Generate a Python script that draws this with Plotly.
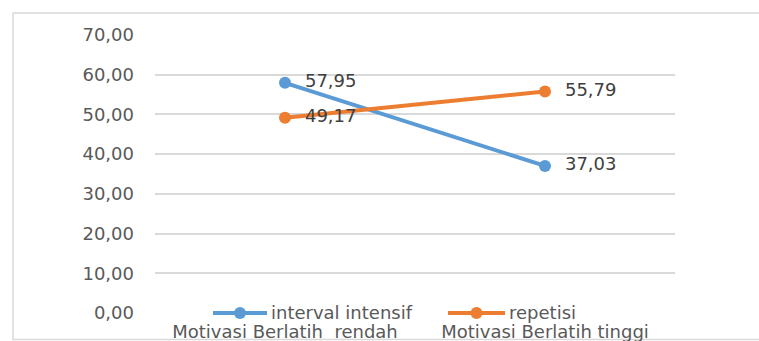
import plotly.graph_objects as go

categories = ["Motivasi Berlatih  rendah", "Motivasi Berlatih tinggi"]
interval_intensif = [57.95, 37.03]
repetisi = [49.17, 55.79]
y_ticks = [0, 10, 20, 30, 40, 50, 60, 70]

BLUE = "#5B9BD5"
ORANGE = "#ED7D31"
FONT = "DejaVu Sans"
TEXT = "#595959"
PLOT_L, PLOT_W = 155, 520


def fmt(v):
    return f"{v:.2f}".replace(".", ",")


def px(x):
    # horizontal pixel position -> paper coordinate
    return (x - PLOT_L) / PLOT_W


series = [("interval intensif", interval_intensif, BLUE),
          ("repetisi", repetisi, ORANGE)]

fig = go.Figure()
for name, vals, color in series:
    fig.add_trace(go.Scatter(
        x=categories, y=vals, name=name, mode="lines+markers+text",
        line=dict(color=color, width=4),
        marker=dict(color=color, size=12),
        text=["  " + fmt(v) for v in vals],
        textposition="middle right",
        textfont=dict(family=FONT, size=18, color="#404040"),
        cliponaxis=False, showlegend=False,
    ))

# legend drawn along the zero line: long line symbol with a centred dot
shapes = [dict(type="rect", xref="paper", yref="paper",
               x0=-0.273, x1=1.5, y0=-0.0953, y1=1.079,
               line=dict(color="#D9D9D9", width=1.5), layer="below")]
annotations = []
for (name, _, color), (x0, x1) in zip(series, [(213, 267), (448, 505)]):
    shapes.append(dict(type="line", xref="paper", yref="paper",
                       x0=px(x0), x1=px(x1), y0=0, y1=0,
                       line=dict(color=color, width=4)))
    shapes.append(dict(type="circle", xref="paper", yref="paper",
                       xsizemode="pixel", ysizemode="pixel",
                       xanchor=px((x0 + x1) / 2), yanchor=0,
                       x0=-6, x1=6, y0=-6, y1=6,
                       fillcolor=color, line=dict(color=color, width=0)))
    annotations.append(dict(xref="paper", yref="paper", x=px(x1 + 2), y=0,
                            xanchor="left", yanchor="middle", yshift=1,
                            showarrow=False, text=name,
                            font=dict(family=FONT, size=18, color=TEXT)))

fig.update_layout(
    width=759, height=341,
    margin=dict(l=155, r=84, t=35, b=28),
    paper_bgcolor="white", plot_bgcolor="white",
    separators=",.",
    font=dict(family=FONT, size=18, color=TEXT),
    showlegend=False,
    xaxis=dict(type="category", range=[-0.5, 1.5], automargin=False,
               showgrid=False, showline=False, zeroline=False, ticks="",
               tickfont=dict(family=FONT, size=18, color=TEXT),
               ticklabelstandoff=6),
    yaxis=dict(range=[0, 70], tickvals=y_ticks, automargin=False,
               ticktext=[fmt(v) for v in y_ticks],
               showgrid=True, gridcolor="#D9D9D9", gridwidth=1.5,
               zeroline=False, showline=False, ticks="",
               ticklabelstandoff=20,
               tickfont=dict(family=FONT, size=18, color=TEXT)),
    shapes=shapes,
    annotations=annotations,
)

fig.write_html("out.html")
